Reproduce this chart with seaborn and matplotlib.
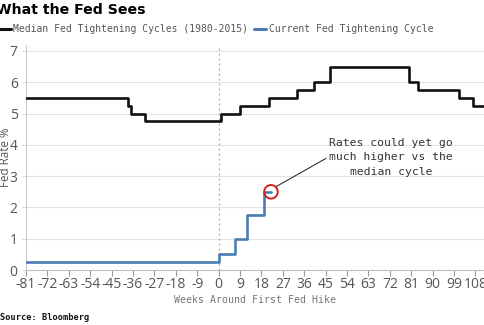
import matplotlib
matplotlib.use("Agg")
import matplotlib.pyplot as plt
import seaborn as sns
import pandas as pd
from matplotlib.lines import Line2D

# Median path of past tightening cycles: week where each level starts
median_weeks = [-81, -38, -37, -31, 1, 9, 21, 33, 40, 47, 80, 84, 101, 107, 112]
median_rates = [5.5, 5.25, 5.0, 4.75, 5.0, 5.25, 5.5, 5.75, 6.0, 6.5, 6.0, 5.75, 5.5, 5.25, 5.25]

# Current cycle
current_weeks = [-81, 0, 7, 12, 19, 22]
current_rates = [0.25, 0.5, 1.0, 1.75, 2.5, 2.5]

x_ticks = [-81, -72, -63, -54, -45, -36, -27, -18, -9, 0, 9, 18, 27, 36, 45, 54, 63, 72, 81, 90, 99, 108]
x_tick_labels = ["-81", "-72", "-63", "-54", "-45", "-36", "-27", "-18", "-9", "0", "9",
                 "18", "27", "36", "45", "54", "63", "72", "81", "90", "99", "108"]
y_ticks = [0, 1, 2, 3, 4, 5, 6, 7]

MEDIAN_COLOR = "#111111"
CURRENT_COLOR = "#4a7db0"
TEXT_GRAY = "#555555"
MONO = "DejaVu Sans Mono"

sns.set_theme(style="white")
plt.rcParams["font.family"] = ["Open Sans", "DejaVu Sans"]

fig = plt.figure(figsize=(4.85, 3.25), dpi=100)
ax = fig.add_axes([0.0536, 0.169, 0.9464, 0.6935])

median_df = pd.DataFrame({"week": median_weeks, "rate": median_rates})
current_df = pd.DataFrame({"week": current_weeks, "rate": current_rates})

sns.lineplot(data=median_df, x="week", y="rate", ax=ax, color=MEDIAN_COLOR,
             linewidth=1.9, drawstyle="steps-post", estimator=None, sort=False, zorder=3)
sns.lineplot(data=current_df, x="week", y="rate", ax=ax, color=CURRENT_COLOR,
             linewidth=1.9, drawstyle="steps-post", estimator=None, sort=False, zorder=3)

ax.set_xlim(-81, 112)
ax.set_ylim(0, 7.2)

# Grid and first-hike marker
for y in y_ticks[1:]:
    ax.axhline(y, color="#e3e3e3", linewidth=0.8, zorder=1)
ax.axvline(0, color="#aaaaaa", linewidth=0.9, linestyle=(0, (1.5, 2.5)), zorder=2)

ax.set_xticks(x_ticks)
ax.set_xticklabels(x_tick_labels)
ax.set_yticks(y_ticks)
ax.tick_params(axis="x", length=4, width=0.8, color="#999999", labelsize=10,
               labelcolor=TEXT_GRAY, pad=1, bottom=True)
ax.tick_params(axis="y", length=3, width=0.6, color="#cccccc", labelsize=10,
               labelcolor=TEXT_GRAY, pad=3, left=True)

for side in ["top", "right"]:
    ax.spines[side].set_visible(False)
ax.spines["left"].set_color("#cccccc")
ax.spines["left"].set_linewidth(0.8)
ax.spines["bottom"].set_color("#bbbbbb")
ax.spines["bottom"].set_linewidth(0.8)

ax.set_xlabel("Weeks Around First Fed Hike", family=MONO, fontsize=7.1,
              color="#777777", labelpad=2)
ax.set_ylabel("Fed Rate %", fontsize=8.4, color=TEXT_GRAY)
ax.yaxis.set_label_coords(-0.030, 0.5)

# Highlight latest point of the current cycle
ax.scatter([current_weeks[-1]], [current_rates[-1]], s=95, facecolors="none",
           edgecolors="#d62020", linewidths=1.4, zorder=5)
ax.annotate("Rates could yet go\nmuch higher vs the\nmedian cycle",
            xy=(current_weeks[-1] + 1.8, current_rates[-1] + 0.15),
            xytext=(72.5, 3.6), textcoords="data",
            ha="center", va="center", family=MONO, fontsize=8.2,
            color="#333333", linespacing=1.55,
            arrowprops=dict(arrowstyle="-", color="#333333", linewidth=0.8,
                            shrinkA=0, shrinkB=0, relpos=(0.0, 0.52)))

# Title, legend and source
fig.text(-0.008, 1 - 10 / 325, "What the Fed Sees", fontsize=10.2, fontweight="bold",
         family="DejaVu Sans", color="#000000", ha="left", va="center")

handles = [Line2D([0], [0], color=MEDIAN_COLOR, linewidth=2.2),
           Line2D([0], [0], color=CURRENT_COLOR, linewidth=2.2)]
labels = ["Median Fed Tightening Cycles (1980-2015)", "Current Fed Tightening Cycle"]
fig.legend(handles, labels, loc="center left", bbox_to_anchor=(-0.003, 1 - 29 / 325),
           ncol=2, frameon=False, prop={"family": MONO, "size": 7.0},
           handlelength=1.25, handletextpad=0.25, columnspacing=0.6,
           borderpad=0, borderaxespad=0, labelcolor="#555555")

fig.text(0.0, 1 - 318 / 325, "Source: Bloomberg", fontsize=6.2, fontweight="bold",
         family=MONO, color="#111111", ha="left", va="center")

fig.savefig("out.png", dpi=100)
